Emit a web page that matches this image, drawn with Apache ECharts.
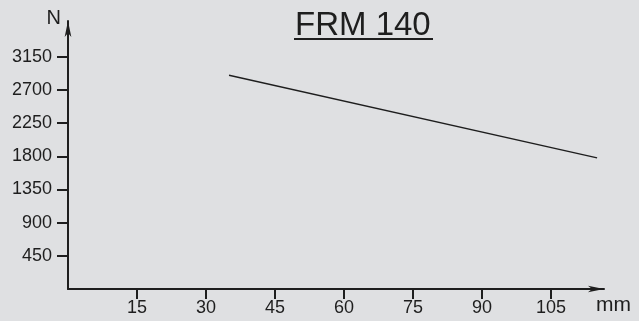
<!DOCTYPE html>
<html>
<head>
<meta charset="utf-8">
<script src="https://cdn.jsdelivr.net/npm/echarts@6/dist/echarts.min.js"></script>
<style>
html,body{margin:0;padding:0;background:#dfe0e2;}
#c{width:639px;height:321px;}
</style>
</head>
<body>
<div id="c"></div>
<script>
var titleText = 'FRM 140';
var xName = 'mm';
var yName = 'N';
var xTicks = [15, 30, 45, 60, 75, 90, 105];
var yTicks = [450, 900, 1350, 1800, 2250, 2700, 3150];
var xValues = [35, 115];
var yValues = [2900, 1780];

var chart = echarts.init(document.getElementById('c'), null, {renderer: 'canvas'});
var font = 'Liberation Sans';
var ink = '#1e1e1e';
chart.setOption({
  backgroundColor: '#dfe0e2',
  animation: false,
  title: {
    text: titleText,
    left: 295, top: 9, padding: 0,
    textStyle: {fontFamily: font, fontSize: 33, fontWeight: 'normal', color: ink}
  },
  graphic: [{
    type: 'line', shape: {x1: 294, y1: 39, x2: 433, y2: 39},
    style: {stroke: ink, lineWidth: 2}
  }],
  grid: {left: 68, right: 35, top: 21, bottom: 32},
  xAxis: {
    type: 'value', min: 0, max: 116.5,
    name: xName, nameLocation: 'end', nameGap: -8,
    nameTextStyle: {fontFamily: font, fontSize: 21, color: ink, align: 'left', verticalAlign: 'top', padding: [6, 0, 0, 0]},
    axisLine: {show: true, symbol: ['none', 'arrow'], symbolSize: [5, 16], lineStyle: {color: ink, width: 2}},
    axisTick: {show: true, length: 10, customValues: xTicks, lineStyle: {color: ink, width: 2}},
    axisLabel: {show: true, customValues: xTicks, margin: 10, fontFamily: font, fontSize: 18, color: ink},
    splitLine: {show: false}
  },
  yAxis: {
    type: 'value', min: 0, max: 3636,
    name: yName, nameLocation: 'end', nameGap: 2.5,
    nameTextStyle: {fontFamily: font, fontSize: 20, color: ink, align: 'right', verticalAlign: 'middle', padding: [0, 7, 0, 0]},
    axisLine: {show: true, symbol: ['none', 'arrow'], symbolSize: [5, 16], lineStyle: {color: ink, width: 2}},
    axisTick: {show: true, length: 11, customValues: yTicks, lineStyle: {color: ink, width: 2}},
    axisLabel: {show: true, customValues: yTicks, formatter: function (v) { return String(v); }, margin: 16, fontFamily: font, fontSize: 18, color: ink},
    splitLine: {show: false}
  },
  series: [{
    type: 'line',
    data: xValues.map(function (x, i) { return [x, yValues[i]]; }),
    showSymbol: false, symbol: 'none',
    lineStyle: {color: ink, width: 1.3}
  }]
});
</script>
</body>
</html>
